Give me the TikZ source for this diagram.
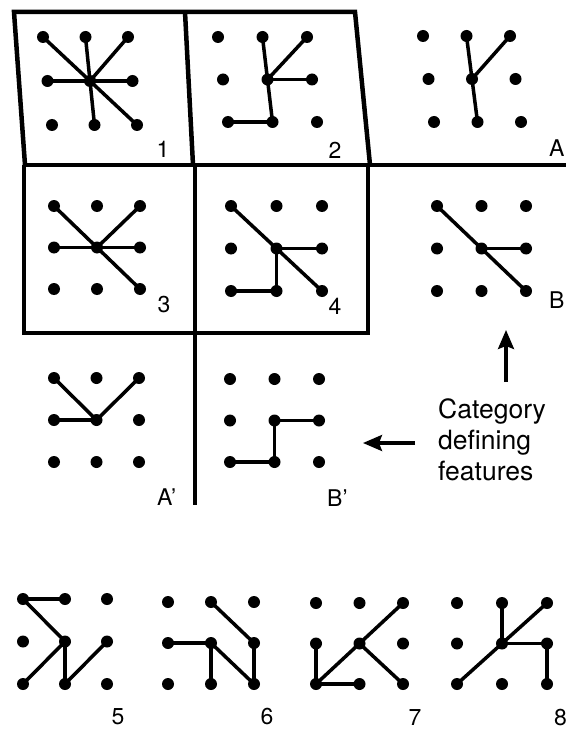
\documentclass[tikz,border=0pt]{standalone}
\usepackage{fontspec}
\setmainfont{TeX Gyre Heros}
\usetikzlibrary{arrows.meta}
\newcommand\dotgrid[6]{%
  \foreach \i in {0,1,2}{\foreach \j in {0,1,2}{%
    \node[gdot] (#1-\i\j) at ({#2+\i*#4+\j*#6},{#3+\j*#5}) {};}}}
\newcommand\gedges[2]{%
  \foreach \a/\b in {#2}{\draw[gedge] (#1-\a.center) -- (#1-\b.center);}}
\begin{document}
\begin{tikzpicture}[x=1pt,y=-1pt,
  gdot/.style={circle,fill=black,inner sep=0pt,minimum size=12pt},
  gedge/.style={line width=3.5pt,line cap=round},
  frame/.style={line width=4.5pt,line join=miter},
  lab/.style={font=\fontsize{23}{25}\selectfont,inner sep=0pt},
  note/.style={font=\fontsize{26.5}{31}\selectfont,align=left,inner sep=0pt},
  pointer/.style={line width=3.2pt,-{Stealth[length=19pt,width=16pt,inset=3pt]}}]
\useasboundingbox (0,0) rectangle (566,730);
% frames
\draw[frame] (25,165) -- (14,12) -- (355,12) -- (370,165);
\draw[frame] (185,12) -- (193,165);
\draw[frame] (25,165) -- (566,165);
\draw[frame] (24,165) -- (24,333) -- (368,333) -- (368,165);
\draw[frame] (195,165) -- (195,505);
% grids
\dotgrid{p1}{43}{37}{42.5}{44}{4.5}
\dotgrid{p2}{218}{37}{44.5}{42.5}{5}
\dotgrid{pA}{423}{36}{43.5}{43}{5.5}
\dotgrid{p3}{54}{206}{43}{41.5}{0}
\dotgrid{p4}{231}{206}{45.5}{42.5}{0}
\dotgrid{pB}{437}{206}{44.5}{42.5}{0}
\dotgrid{pAp}{54}{378}{42.5}{42}{0}
\dotgrid{pBp}{230}{379}{44.5}{41.5}{0}
\dotgrid{p5}{23}{599}{42}{42.5}{0}
\dotgrid{p6}{168}{602}{43}{41}{0}
\dotgrid{p7}{316}{603}{43.5}{40.5}{0}
\dotgrid{p8}{457}{603}{45}{40.5}{0}
% edges
\gedges{p1}{00/22,10/12,20/11,01/21}
\gedges{p2}{10/11,20/11,11/21,11/12,12/02}
\gedges{pA}{10/11,20/11,11/12}
\gedges{p3}{00/22,20/11,01/21}
\gedges{p4}{00/22,11/21,11/12,12/02}
\gedges{pB}{00/22,11/21}
\gedges{pAp}{00/11,20/11,01/11}
\gedges{pBp}{11/21,11/12,12/02}
\gedges{p5}{00/10,00/11,11/02,11/12,12/21}
\gedges{p6}{01/11,11/12,11/22,10/21,21/22}
\gedges{p7}{02/01,02/12,02/20,11/22}
\gedges{p8}{02/20,11/10,11/21,21/22}
% labels
\node[lab] (l1) at (163,149) {1};
\node[lab] (l2) at (335,150) {2};
\node[lab,anchor=west] (lA) at (549,148) {A};
\node[lab] (l3) at (164,305) {3};
\node[lab] (l4) at (335,306) {4};
\node[lab,anchor=west] (lB) at (549,300) {B};
\node[lab,anchor=west] (lAp) at (157,497) {A'};
\node[lab,anchor=west] (lBp) at (327,498) {B'};
\node[lab] (l5) at (118,717) {5};
\node[lab] (l6) at (267,717) {6};
\node[lab] (l7) at (415,718) {7};
\node[lab,anchor=west] (l8) at (554,718) {8};
% note and arrows
\node[note,anchor=north west] (cat) at (438,398) {Category\\defining\\features};
\coordinate (upS) at (506,382);
\coordinate (upE) at (506,330);
\coordinate (lfS) at (415,443);
\coordinate (lfE) at (363,443);
\draw[pointer] (upS) -- (upE);
\draw[pointer] (lfS) -- (lfE);
\end{tikzpicture}
\end{document}
